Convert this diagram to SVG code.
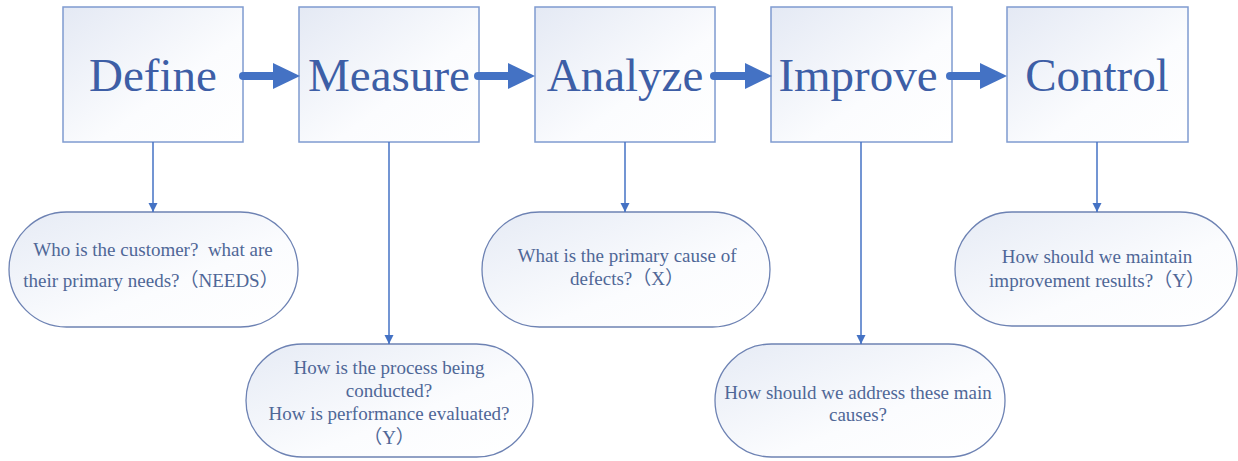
<svg xmlns="http://www.w3.org/2000/svg" width="1238" height="461" viewBox="0 0 1238 461">
<style>
.box{fill:url(#gBox);stroke:#7f9bd0;stroke-width:1.5}
.pill{fill:url(#gPill);stroke:#6d82b3;stroke-width:1.3}
.title{font-family:'Liberation Serif','DejaVu Serif',serif;font-size:47px;fill:#3d5ea6;text-anchor:middle}
.q{font-family:'Liberation Serif','DejaVu Serif','Noto Sans CJK SC',serif;font-size:19px;fill:#4f6797;text-anchor:middle}
.thick{stroke:#4472c4;stroke-width:8;stroke-linecap:round;fill:none}
.thin{stroke:#4472c4;stroke-width:1.5;fill:none}
</style>
<defs>
<linearGradient id="gBox" x1="0" y1="0" x2="1" y2="1">
<stop offset="0" stop-color="#e4e9f4"/>
<stop offset="0.6" stop-color="#fbfcfe"/>
<stop offset="1" stop-color="#ffffff"/>
</linearGradient>
<linearGradient id="gPill" x1="0" y1="0" x2="1" y2="1">
<stop offset="0" stop-color="#e6ebf5"/>
<stop offset="0.6" stop-color="#fbfcfe"/>
<stop offset="1" stop-color="#ffffff"/>
</linearGradient>
<marker id="big" markerUnits="userSpaceOnUse" markerWidth="27" markerHeight="26" refX="0" refY="13" orient="auto">
<path d="M0,0 L27,13 L0,26 Z" fill="#4472c4"/>
</marker>
<marker id="small" markerUnits="userSpaceOnUse" markerWidth="9" markerHeight="11" refX="9" refY="4.5" orient="auto">
<path d="M0,0 L9,4.5 L0,9 Z" fill="#4472c4"/>
</marker>
</defs>

<g id="define">
<rect class="box" x="63" y="7" width="180" height="135"/>
<text class="title" x="153" y="91">Define</text>
</g>
<g id="measure">
<rect class="box" x="299" y="7" width="180" height="135"/>
<text class="title" x="389" y="91">Measure</text>
</g>
<g id="analyze">
<rect class="box" x="535" y="7" width="180" height="135"/>
<text class="title" x="625" y="91">Analyze</text>
</g>
<g id="improve">
<rect class="box" x="771" y="7" width="181" height="135"/>
<text class="title" x="858" y="91">Improve</text>
</g>
<g id="control">
<rect class="box" x="1007" y="7" width="181" height="135"/>
<text class="title" x="1097" y="91">Control</text>
</g>

<g id="q-define">
<rect class="pill" x="9" y="212" width="289" height="115" rx="57.5" ry="57.5"/>
<text class="q" x="153" y="256">Who is the customer?&#160; what are</text>
<text class="q" x="151" y="287">their primary needs?（NEEDS）</text>
</g>
<g id="q-measure">
<rect class="pill" x="246" y="344" width="287" height="113" rx="56.5" ry="56.5"/>
<text class="q" x="389" y="374">How is the process being</text>
<text class="q" x="389" y="397">conducted?</text>
<text class="q" x="389" y="420">How is performance evaluated?</text>
<text class="q" x="389" y="444">（Y）</text>
</g>
<g id="q-analyze">
<rect class="pill" x="482" y="212" width="288" height="115" rx="57.5" ry="57.5"/>
<text class="q" x="627" y="262">What is the primary cause of</text>
<text class="q" x="627" y="285">defects?（X）</text>
</g>
<g id="q-improve">
<rect class="pill" x="715" y="344" width="290" height="113" rx="56.5" ry="56.5"/>
<text class="q" x="858" y="399">How should we address these main</text>
<text class="q" x="858" y="421">causes?</text>
</g>
<g id="q-control">
<rect class="pill" x="955" y="212" width="282" height="114" rx="57" ry="57"/>
<text class="q" x="1097" y="263">How should we maintain</text>
<text class="q" x="1097" y="287">improvement results?（Y）</text>
</g>

<g id="connectors">
<line class="thick" x1="243" y1="76" x2="273" y2="76" marker-end="url(#big)"/>
<line class="thick" x1="478" y1="76" x2="508" y2="76" marker-end="url(#big)"/>
<line class="thick" x1="714" y1="76" x2="745" y2="76" marker-end="url(#big)"/>
<line class="thick" x1="950" y1="76" x2="980" y2="76" marker-end="url(#big)"/>
<line class="thin" x1="153" y1="142" x2="153" y2="212" marker-end="url(#small)"/>
<line class="thin" x1="389" y1="142" x2="389" y2="344" marker-end="url(#small)"/>
<line class="thin" x1="625" y1="142" x2="625" y2="212" marker-end="url(#small)"/>
<line class="thin" x1="861" y1="142" x2="861" y2="344" marker-end="url(#small)"/>
<line class="thin" x1="1097" y1="142" x2="1097" y2="212" marker-end="url(#small)"/>
</g>
</svg>
